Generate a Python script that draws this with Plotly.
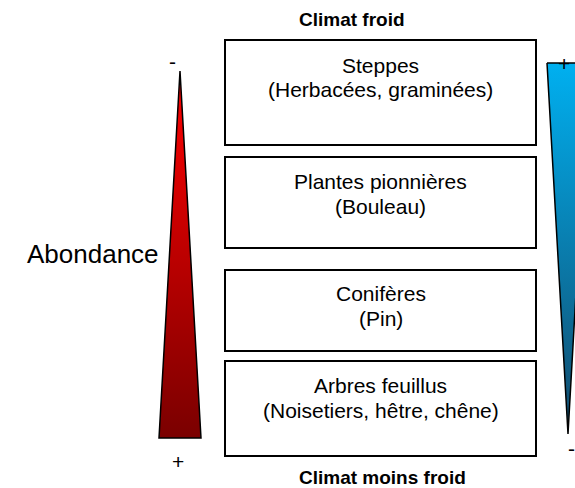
import plotly.graph_objects as go

# --- content ---
stages = ["Steppes", "Plantes pionnières", "Conifères", "Arbres feuillus"]
details = ["(Herbacées, graminées)", "(Bouleau)", "(Pin)", "(Noisetiers, hêtre, chêne)"]
title_top = "Climat froid"
title_bottom = "Climat moins froid"
axis_label = "Abondance"
red_ends = ["-", "+"]     # top, bottom of the red triangle
blue_ends = ["+", "-"]    # top, bottom of the blue triangle

# --- layout geometry (page pixel space) ---
W, H = 575, 488
box_x = (225, 536)
box_y = [(40, 145), (157, 248), (270, 351), (361, 456)]
line1_y = [65, 181, 293, 385]
line2_y = [89, 206, 318, 410]

red_tri = dict(apex=(180, 71), base_y=438, half=21)
blue_tri = dict(apex=(568, 434), top_y=63, half=21)

FONT = "Liberation Sans, Arial, sans-serif"

fig = go.Figure()

# red triangle (apex up)
ax, ay = red_tri["apex"]
by = red_tri["base_y"]
h = red_tri["half"]
fig.add_trace(go.Scatter(
    x=[ax, ax + h, ax - h, ax], y=[ay, by, by, ay],
    mode="lines", fill="toself",
    line=dict(color="black", width=1.5),
    fillgradient=dict(type="vertical",
                      colorscale=[[0, "#FF0000"], [1, "#7A0000"]],
                      start=ay, stop=by),
    hoverinfo="skip", showlegend=False))

# blue triangle (apex down)
bx, bay = blue_tri["apex"]
ty = blue_tri["top_y"]
h2 = blue_tri["half"]
fig.add_trace(go.Scatter(
    x=[bx - h2, bx + h2, bx, bx - h2], y=[ty, ty, bay, ty],
    mode="lines", fill="toself",
    line=dict(color="black", width=1.5),
    fillgradient=dict(type="vertical",
                      colorscale=[[0, "#00B0F0"], [1, "#134A6B"]],
                      start=ty, stop=bay),
    hoverinfo="skip", showlegend=False))

shapes = []
annotations = []
for i, (name, det) in enumerate(zip(stages, details)):
    y0, y1 = box_y[i]
    shapes.append(dict(type="rect", xref="x", yref="y",
                       x0=box_x[0], x1=box_x[1], y0=y0, y1=y1,
                       line=dict(color="black", width=2), fillcolor="white",
                       layer="below"))
    cx = (box_x[0] + box_x[1]) / 2
    annotations.append(dict(x=cx, y=line1_y[i], text=name, showarrow=False,
                            xanchor="center", yanchor="middle",
                            font=dict(family=FONT, size=21, color="black")))
    annotations.append(dict(x=cx, y=line2_y[i], text=det, showarrow=False,
                            xanchor="center", yanchor="middle",
                            font=dict(family=FONT, size=21, color="black")))

annotations += [
    dict(x=297, y=19, text="<b>" + title_top + "</b>", showarrow=False,
         xanchor="left", yanchor="middle",
         font=dict(family=FONT, size=19, color="black")),
    dict(x=297, y=477, text="<b>" + title_bottom + "</b>", showarrow=False,
         xanchor="left", yanchor="middle",
         font=dict(family=FONT, size=19, color="black")),
    dict(x=25, y=254, text=axis_label, showarrow=False,
         xanchor="left", yanchor="middle",
         font=dict(family=FONT, size=26, color="black")),
    dict(x=172, y=61, text=red_ends[0], showarrow=False,
         xanchor="center", yanchor="middle",
         font=dict(family=FONT, size=21, color="black")),
    dict(x=178, y=461, text=red_ends[1], showarrow=False,
         xanchor="center", yanchor="middle",
         font=dict(family=FONT, size=21, color="black")),
    dict(x=564, y=63, text=blue_ends[0], showarrow=False,
         xanchor="center", yanchor="middle",
         font=dict(family=FONT, size=21, color="black")),
    dict(x=571, y=448, text=blue_ends[1], showarrow=False,
         xanchor="center", yanchor="middle",
         font=dict(family=FONT, size=21, color="black")),
]

fig.update_layout(
    width=W, height=H,
    margin=dict(l=0, r=0, t=0, b=0),
    paper_bgcolor="white", plot_bgcolor="white",
    xaxis=dict(range=[0, W], visible=False, fixedrange=True),
    yaxis=dict(range=[H, 0], visible=False, fixedrange=True),
    shapes=shapes, annotations=annotations,
    showlegend=False,
)

fig.write_html(
    "out.html",
    config={"displayModeBar": False},
    post_script="document.body.style.margin='0';"
                "document.documentElement.style.overflow='hidden';"
                "document.body.style.overflow='hidden';",
)
